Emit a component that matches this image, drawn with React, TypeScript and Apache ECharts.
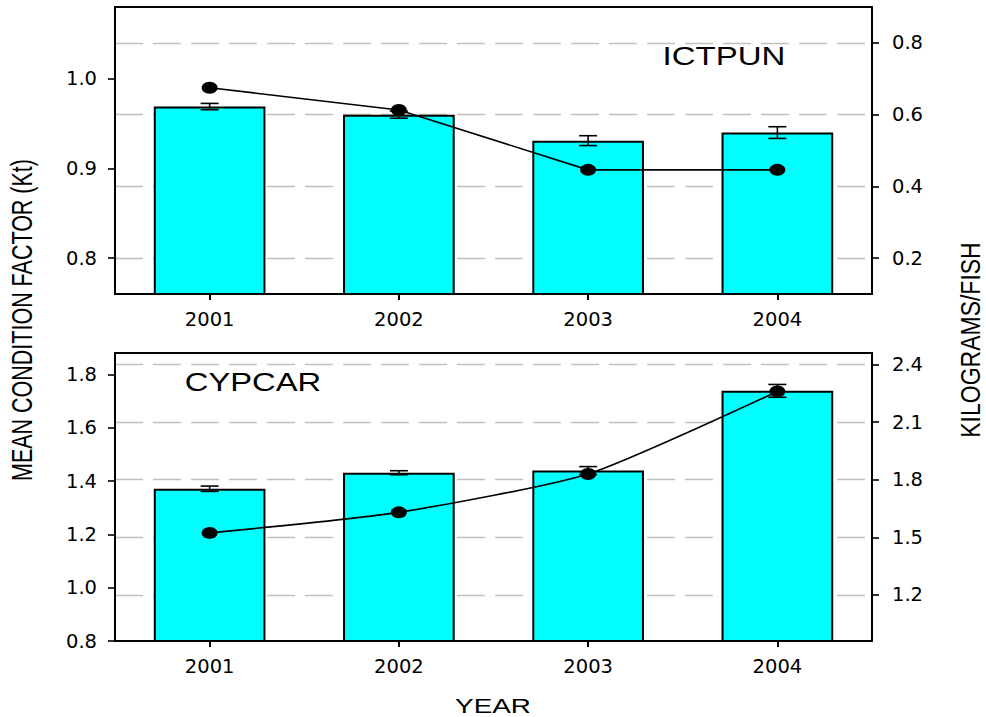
import React, { useEffect, useRef } from "react";
import * as echarts from "echarts";

const years = ["2001", "2002", "2003", "2004"];

// ICTPUN (top panel)
const ictpunKt = [0.969, 0.96, 0.931, 0.94];
const ictpunKtErr = [0.0035, 0.004, 0.0055, 0.0065];
const ictpunKg = [0.675, 0.613, 0.446, 0.446];

// CYPCAR (bottom panel)
const cypcarKt = [1.371, 1.431, 1.439, 1.738];
const cypcarKtErr = [0.01, 0.0075, 0.015, 0.024];
const cypcarKg = [1.523, 1.63, 1.83, 2.26];

// tick labels
const topLeftTicks = [0.8, 0.9, 1.0];
const topRightTicks = [0.2, 0.4, 0.6, 0.8];
const botLeftTicks = [0.8, 1.0, 1.2, 1.4, 1.6, 1.8];
const botRightTicks = [1.2, 1.5, 1.8, 2.1, 2.4];

const FONT = "DejaVu Sans";
const TFONT = "Liberation Sans";

function errRender(params: any, api: any) {
  const i = api.value(0);
  const v = api.value(1);
  const e = api.value(2);
  const hi = api.coord([i, v + e]);
  const lo = api.coord([i, v - e]);
  const w = 9;
  const st = { stroke: "#000", lineWidth: 1.6 };
  return {
    type: "group",
    children: [
      { type: "line", shape: { x1: hi[0], y1: hi[1], x2: lo[0], y2: lo[1] }, style: st },
      { type: "line", shape: { x1: hi[0] - w, y1: hi[1], x2: hi[0] + w, y2: hi[1] }, style: st },
      { type: "line", shape: { x1: lo[0] - w, y1: lo[1], x2: lo[0] + w, y2: lo[1] }, style: st },
    ],
  };
}

function xAxisCfg(gridIndex: number) {
  return {
    type: "category",
    gridIndex,
    data: years,
    boundaryGap: true,
    axisLine: { show: true, lineStyle: { color: "#000", width: 2 } },
    axisTick: { show: true, alignWithLabel: true, length: 6, lineStyle: { color: "#000", width: 2 } },
    axisLabel: { margin: 15, fontFamily: FONT, fontSize: 19.5, color: "#000" },
    splitLine: { show: false },
  };
}

function yAxisCfg(gridIndex: number, position: string, min: number, max: number, ticks: number[], split: boolean, splitNumber: number) {
  return {
    type: "value",
    gridIndex,
    position,
    min,
    max,
    splitNumber,
    axisLine: { show: true, onZero: false, lineStyle: { color: "#000", width: 2 } },
    axisTick: { show: true, inside: false, length: 7, customValues: ticks, lineStyle: { color: "#000", width: 1.6 } },
    axisLabel: {
      margin: position === "left" ? 18 : 20,
      customValues: ticks,
      fontFamily: FONT,
      fontSize: 19.5,
      color: "#000",
      formatter: (v: number) => v.toFixed(1),
    },
    splitLine: {
      show: split,
      lineStyle: { color: "#c0c0c0", width: 1.4, type: [28, 10] },
    },
  };
}

export default function App() {
  const ref = useRef<HTMLDivElement>(null);
  useEffect(() => {
    const chart = echarts.init(ref.current!, null, { renderer: "svg" });
    const barStyle = { color: "#00ffff", borderColor: "#000", borderWidth: 2 };
    const option: any = {
      animation: false,
      backgroundColor: "#fff",
      grid: [
        { left: 115, right: 114, top: 7, height: 287, show: true, borderColor: "#000", borderWidth: 2, backgroundColor: "transparent" },
        { left: 115, right: 114, top: 353, height: 288, show: true, borderColor: "#000", borderWidth: 2, backgroundColor: "transparent" },
      ],
      xAxis: [xAxisCfg(0), xAxisCfg(1)],
      yAxis: [
        yAxisCfg(0, "left", 0.76, 1.08, topLeftTicks, false, 3),
        yAxisCfg(0, "right", 0.1, 0.9, topRightTicks, true, 4),
        yAxisCfg(1, "left", 0.8, 1.88, botLeftTicks, false, 5),
        yAxisCfg(1, "right", 0.96, 2.46, botRightTicks, true, 5),
      ],
      series: [
        { type: "bar", xAxisIndex: 0, yAxisIndex: 0, data: ictpunKt, barWidth: "59%", itemStyle: barStyle, z: 2 },
        {
          type: "custom",
          xAxisIndex: 0,
          yAxisIndex: 0,
          renderItem: errRender,
          encode: { x: 0, y: 1 },
          data: years.map((_, i) => [i, ictpunKt[i], ictpunKtErr[i]]),
          z: 3,
        },
        {
          type: "line",
          xAxisIndex: 0,
          yAxisIndex: 1,
          data: ictpunKg,
          symbol: "circle",
          symbolSize: [16, 12],
          itemStyle: { color: "#000" },
          lineStyle: { color: "#000", width: 1.6 },
          z: 4,
        },
        { type: "bar", xAxisIndex: 1, yAxisIndex: 2, data: cypcarKt, barWidth: "59%", itemStyle: barStyle, z: 2 },
        {
          type: "custom",
          xAxisIndex: 1,
          yAxisIndex: 2,
          renderItem: errRender,
          encode: { x: 0, y: 1 },
          data: years.map((_, i) => [i, cypcarKt[i], cypcarKtErr[i]]),
          z: 3,
        },
        {
          type: "line",
          xAxisIndex: 1,
          yAxisIndex: 3,
          data: cypcarKg,
          smooth: 0.2,
          symbol: "circle",
          symbolSize: [16, 12],
          itemStyle: { color: "#000" },
          lineStyle: { color: "#000", width: 1.6 },
          z: 4,
        },
      ],
      graphic: [
        {
          type: "text",
          x: 724,
          y: 56,
          scaleX: 1.32,
          style: { text: "ICTPUN", fontFamily: TFONT, fontSize: 25, fill: "#000", textAlign: "center", textVerticalAlign: "middle" },
          z: 10,
        },
        {
          type: "text",
          x: 253,
          y: 382,
          scaleX: 1.31,
          style: { text: "CYPCAR", fontFamily: TFONT, fontSize: 25, fill: "#000", textAlign: "center", textVerticalAlign: "middle" },
          z: 10,
        },
        {
          type: "text",
          x: 493,
          y: 706,
          scaleX: 1.36,
          style: { text: "YEAR", fontFamily: TFONT, fontSize: 20.5, fill: "#000", textAlign: "center", textVerticalAlign: "middle" },
          z: 10,
        },
        {
          type: "text",
          x: 22,
          y: 320,
          rotation: Math.PI / 2,
          scaleY: 1.33,
          style: { text: "MEAN CONDITION FACTOR (Kt)", fontFamily: TFONT, fontSize: 21.5, fill: "#000", textAlign: "center", textVerticalAlign: "middle" },
          z: 10,
        },
        {
          type: "text",
          x: 970,
          y: 340,
          rotation: Math.PI / 2,
          scaleY: 1.2,
          style: { text: "KILOGRAMS/FISH", fontFamily: TFONT, fontSize: 23, fill: "#000", textAlign: "center", textVerticalAlign: "middle" },
          z: 10,
        },
      ],
    };
    chart.setOption(option);
    return () => chart.dispose();
  }, []);
  return (
    <div
      ref={ref}
      style={{ position: "absolute", left: 0, top: 0, width: 986, height: 717, background: "#fff" }}
    />
  );
}
